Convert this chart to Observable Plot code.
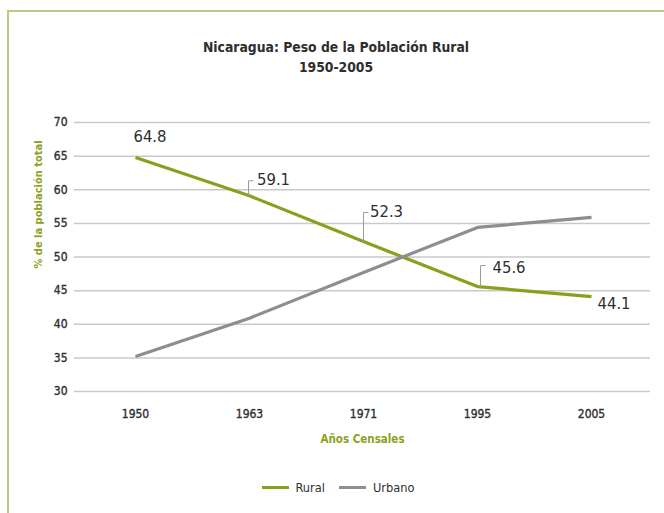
<!DOCTYPE html>
<html>
<head>
<meta charset="utf-8">
<script src="https://cdn.jsdelivr.net/npm/d3@7"></script>
<script src="https://cdn.jsdelivr.net/npm/@observablehq/plot@0.6"></script>
<style>
  html, body { margin: 0; padding: 0; background: #fff; }
  #wrap { position: relative; width: 664px; height: 513px; overflow: hidden; background: #fff;
    font-family: "DejaVu Sans Condensed", "DejaVu Sans", sans-serif; font-stretch: condensed; }
  #frame { position: absolute; left: 7px; top: 10px; width: 670px; height: 520px;
    border-top: 2px solid #b7ca81; border-left: 2px solid #b7ca81; }
  #title { position: absolute; left: 8px; right: 0; top: 37px; text-align: center;
    font-weight: bold; font-size: 13.8px; line-height: 20px; color: #2e2e2e; }
  #chart { position: absolute; left: 0; top: 90px; }
  #chart g[aria-label="y-axis tick label"] text,
  #chart g[aria-label="x-axis tick label"] text { stroke: #2e2e2e; stroke-width: 0.35px; }
  #legend { position: absolute; left: 0; top: 480px; width: 664px; display: flex; justify-content: center;
    align-items: center; font-size: 12.7px; color: #2e2e2e; padding-left: 12px; box-sizing: border-box; }
  .item { display: flex; align-items: center; margin: 0 7px; }
  .sw { display: inline-block; width: 27px; height: 3.5px; margin-right: 7px; }
</style>
</head>
<body>
<div id="wrap">
  <div id="frame"></div>
  <div id="title">Nicaragua: Peso de la Población Rural<br>1950-2005</div>
  <div id="chart"></div>
  <div id="legend"></div>
</div>
<script>
// ---- data ----
const years = ["1950", "1963", "1971", "1995", "2005"];
const rural = [64.8, 59.1, 52.3, 45.6, 44.1];
const urbano = [35.2, 40.9, 47.7, 54.4, 55.9];
const seriesNames = ["Rural", "Urbano"];
const yTicks = [30, 35, 40, 45, 50, 55, 60, 65, 70];
const xTitle = "Años Censales";
const yTitle = "% de la población total";

// ---- styles ----
const colors = ["#8a9f1b", "#8e8e90"];
const green = "#8aa21c";
const labelStyle = [
  {dx: 14.5, dy: -21, anchor: "middle", leader: 0},
  {dx: 7.5, dy: -16, anchor: "start", leader: 15, ldx: -1},
  {dx: 6.5, dy: -30, anchor: "start", leader: 29, ldx: 0},
  {dx: 15, dy: -19, anchor: "start", leader: 21, ldx: 3},
  {dx: 6, dy: 7, anchor: "start", leader: 0}
];

const rows = [];
seriesNames.forEach((s, k) => {
  const vals = k === 0 ? rural : urbano;
  years.forEach((yr, i) => rows.push({serie: s, year: yr, value: vals[i]}));
});
const labels = years.map((yr, i) => ({year: yr, value: rural[i], text: rural[i].toFixed(1)}));

const bracket = {
  draw(context, l) {
    context.moveTo(0, 0);
    context.lineTo(0, -l);
    context.lineTo(4.5, -l);
  }
};

const marks = [
  Plot.gridY(yTicks, {stroke: "#c9c9c9", strokeOpacity: 1, strokeWidth: 1.5}),
  Plot.axisY(yTicks, {tickSize: 0, tickPadding: 7, fontSize: 12, fill: "#2e2e2e", label: null}),
  Plot.axisX({tickSize: 0, tickPadding: 18, fontSize: 12, fill: "#2e2e2e", label: null}),
  Plot.text([yTitle], {frameAnchor: "left", rotate: -90, dx: -36.5, dy: 11.5, fontSize: 11,
    fontWeight: "bold", fill: green}),
  Plot.text([xTitle], {frameAnchor: "bottom", dy: 51, fontSize: 11.5, fontWeight: "bold", fill: green}),
  Plot.line(rows, {x: "year", y: "value", z: "serie", stroke: "serie", strokeWidth: 3.2,
    strokeLinecap: "butt", strokeLinejoin: "round"})
];
labelStyle.forEach((st, i) => {
  if (st.leader) {
    marks.push(Plot.vector([labels[i]], {x: "year", y: "value", length: st.leader, rotate: 0,
      anchor: "start", shape: bracket, dx: st.ldx, stroke: "#9a9a9a", strokeWidth: 1}));
  }
  marks.push(Plot.text([labels[i]], {x: "year", y: "value", text: "text", dx: st.dx, dy: st.dy,
    textAnchor: st.anchor, fontSize: 16.5, fill: "#2e2e2e"}));
});

const chart = Plot.plot({
  width: 664,
  height: 370,
  marginTop: 32,
  marginBottom: 69,
  marginLeft: 74,
  marginRight: 14,
  style: {fontFamily: "'DejaVu Sans Condensed', 'DejaVu Sans', sans-serif", fontStretch: "condensed", background: "transparent"},
  x: {type: "point", domain: years, padding: 0.52, align: 0.51},
  y: {domain: [30, 70]},
  color: {domain: seriesNames, range: colors},
  marks
});
document.getElementById("chart").appendChild(chart);

const legend = document.getElementById("legend");
seriesNames.forEach((s, k) => {
  const item = document.createElement("span");
  item.className = "item";
  const sw = document.createElement("span");
  sw.className = "sw";
  sw.style.background = colors[k];
  item.appendChild(sw);
  item.appendChild(document.createTextNode(s));
  legend.appendChild(item);
});
</script>
</body>
</html>
